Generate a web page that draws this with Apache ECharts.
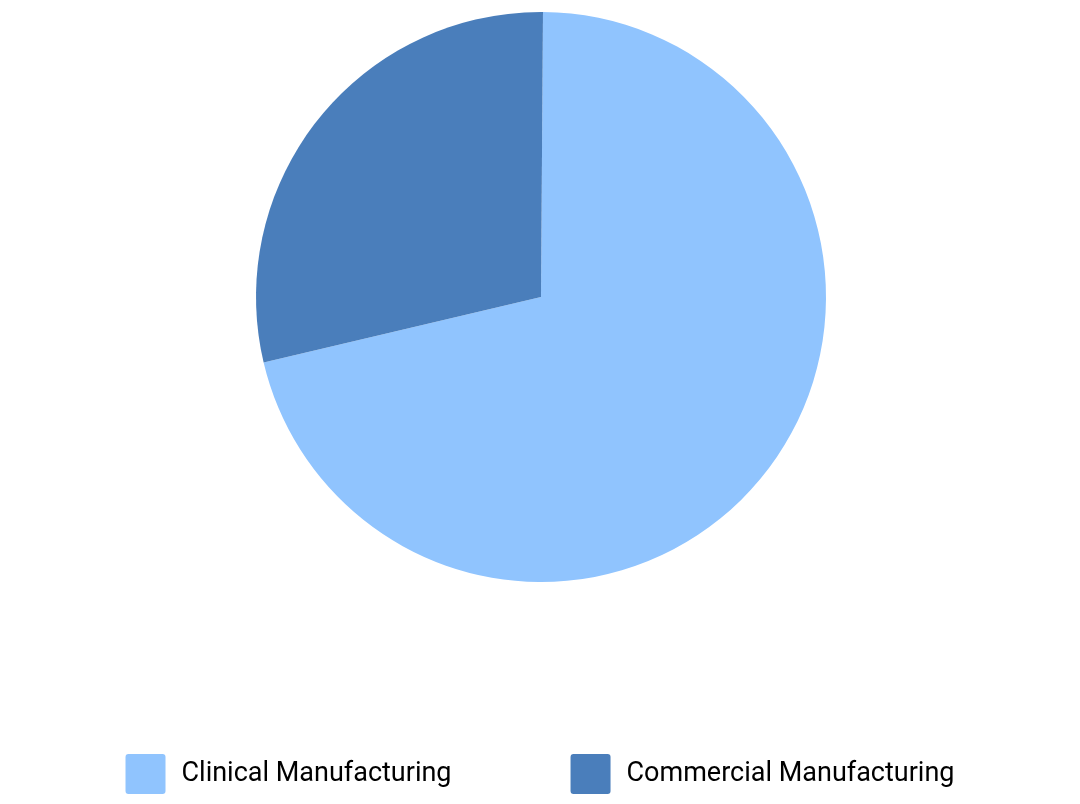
<!DOCTYPE html>
<html>
<head>
<meta charset="utf-8">
<script src="https://cdn.jsdelivr.net/npm/echarts@6/dist/echarts.min.js"></script>
<style>
html,body{margin:0;padding:0;background:#fff;}
#chart{width:1080px;height:804px;}
</style>
</head>
<body>
<div id="chart"></div>
<script>
const categories = ["Clinical Manufacturing", "Commercial Manufacturing"];
const values = [71.2, 28.8];
const colors = ["#90C4FE", "#4A7EBB"];

const chart = echarts.init(document.getElementById('chart'), null, {renderer: 'canvas'});
chart.setOption({
  animation: false,
  color: colors,
  legend: {
    data: categories,
    bottom: 10,
    left: 'center',
    padding: 0,
    itemWidth: 40,
    itemHeight: 40,
    itemGap: 119,
    icon: 'path://M3,0H37A3,3,0,0,1,40,3V37A3,3,0,0,1,37,40H3A3,3,0,0,1,0,37V3A3,3,0,0,1,3,0Z',
    textStyle: {fontFamily: 'Roboto', fontSize: 27, color: '#000', padding: [0, 0, 0, 11]}
  },
  series: [{
    type: 'pie',
    center: [541, 297],
    radius: 285,
    startAngle: 89.6,
    clockwise: true,
    label: {show: false},
    labelLine: {show: false},
    emphasis: {disabled: true},
    itemStyle: {borderWidth: 0},
    data: categories.map((c, i) => ({name: c, value: values[i]}))
  }]
});
</script>
</body>
</html>
